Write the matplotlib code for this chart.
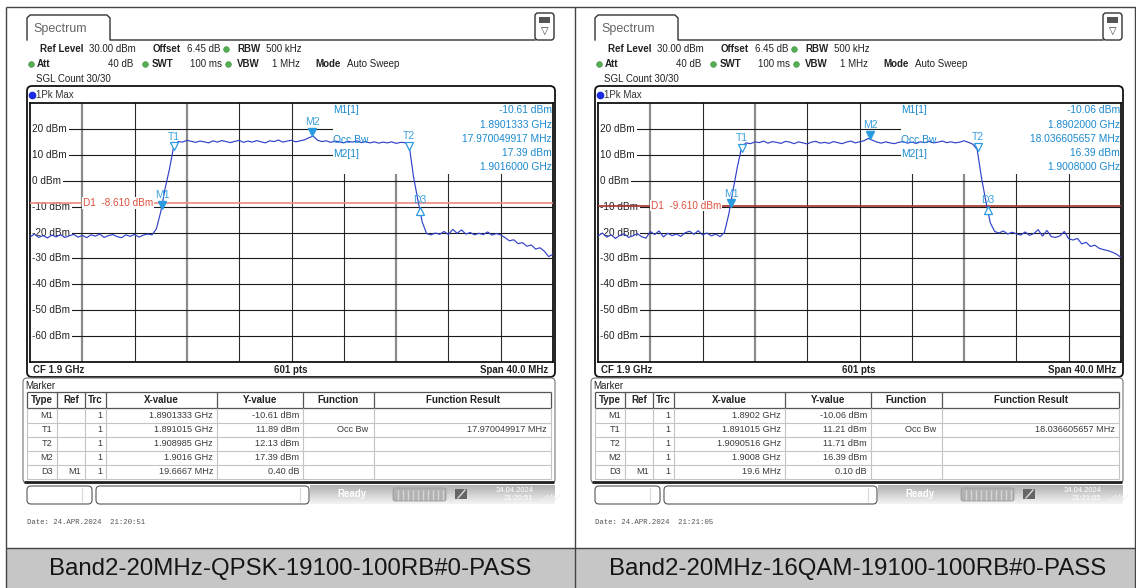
import numpy as np
import matplotlib.pyplot as plt
from matplotlib.patches import Rectangle, FancyBboxPatch
from matplotlib.transforms import ScaledTranslation

plt.rcParams['font.family'] = ['Liberation Sans', 'DejaVu Sans']

W, H = 1136, 588
PANEL_DX = 568

# analyser x axis: 40 MHz span around 1.9 GHz (GHz)
freq = np.linspace(1.88, 1.92, 121)

# traces (dBm)
trace_qpsk = [
    -21.8, -20.6, -21.9, -21.2, -22.1, -21.0, -21.7, -20.8, -21.9, -21.3,
    -20.7, -21.8, -21.1, -22.0, -20.9, -21.4, -20.6, -21.9, -21.2, -20.8,
    -21.6, -22.0, -20.9, -21.5, -20.7, -21.8, -21.0, -20.6, -20.9, -18.6,
    -12.0, -3.0, 4.5, 13.5, 15.1, 14.9, 15.6, 15.2, 14.8, 15.3,
    15.0, 14.6, 15.4, 14.9, 15.5, 15.1, 14.7, 15.2, 15.6, 14.8,
    15.3, 14.9, 15.5, 15.0, 14.6, 15.4, 15.1, 15.7, 14.9, 15.3,
    15.6, 15.0, 15.4, 15.8, 16.6, 17.2, 15.6, 15.1, 15.4, 14.8,
    15.3, 15.0, 14.6, 15.2, 14.9, 15.4, 14.7, 15.1, 14.6, 15.0,
    14.5, 14.9, 14.6, 15.0, 14.4, 14.8, 14.7, 13.6, 1.5, -7.5,
    -16.0, -20.4, -20.9, -20.2, -20.7, -19.6, -20.8, -18.8, -20.3, -19.0,
    -20.6, -20.0, -20.9, -20.3, -20.8, -19.8, -21.0, -20.4, -20.9, -22.0,
    -23.2, -22.8, -24.3, -23.9, -25.3, -24.8, -26.4, -25.9, -27.2, -29.3,
    -28.4]
trace_16qam = [
    -21.4, -20.2, -21.8, -20.9, -22.3, -21.1, -20.5, -21.9, -21.3, -20.4,
    -21.6, -22.2, -19.6, -20.8, -19.4, -21.7, -20.3, -21.2, -20.6, -21.5,
    -20.1, -19.5, -20.7, -19.3, -20.9, -20.2, -21.3, -20.6, -21.6, -20.0,
    -13.0, -3.5, 5.5, 13.2, 14.6, 14.3, 15.0, 14.7, 15.3, 14.5,
    15.1, 14.8, 14.4, 15.2, 14.9, 14.3, 15.0, 14.6, 14.2, 14.9,
    15.2, 14.5, 14.8, 14.4, 15.1, 14.7, 14.3, 14.9, 15.3, 14.6,
    15.0, 15.4, 16.3, 15.6, 14.9, 14.5, 15.0, 14.6, 14.3, 14.8,
    15.1, 14.5, 14.9, 14.4, 15.0, 14.7, 15.2, 14.6, 14.9, 15.3,
    14.7, 15.0, 14.6, 14.9, 15.4, 14.8, 14.1, 12.0, 1.0, -8.0,
    -16.2, -19.6, -20.2, -19.4, -20.6, -19.9, -20.5, -21.0, -19.8, -21.1,
    -20.4, -18.9, -21.4, -19.2, -21.6, -21.9, -21.3, -19.6, -22.4, -22.9,
    -22.3, -24.4, -23.8, -25.4, -24.9, -26.1, -26.6, -27.0, -27.6, -28.4,
    -29.6]

marker_names = ['M1', 'T1', 'T2', 'M2', 'D3']
marker_f_qpsk = [1.8901333, 1.891015, 1.908985, 1.9016, 1.8901333 + 0.0196667]
marker_v_qpsk = [-10.61, 11.89, 12.13, 17.39, -10.61 + 0.40]
marker_f_16qam = [1.8902, 1.891015, 1.9090516, 1.9008, 1.8902 + 0.0196]
marker_v_16qam = [-10.06, 11.21, 11.71, 16.39, -10.06 + 0.10]

d1_levels = [-8.610, -9.610]
info_qpsk = ['-10.61 dBm', '1.8901333 GHz', '17.970049917 MHz', '17.39 dBm', '1.9016000 GHz']
info_16qam = ['-10.06 dBm', '1.8902000 GHz', '18.036605657 MHz', '16.39 dBm', '1.9008000 GHz']

table_cols = ['Type', 'Ref', 'Trc', 'X-value', 'Y-value', 'Function', 'Function Result']
table_ref = ['', '', '', '', 'M1']
table_trc = ['1', '1', '1', '1', '1']
table_x_qpsk = ['1.8901333 GHz', '1.891015 GHz', '1.908985 GHz', '1.9016 GHz', '19.6667 MHz']
table_y_qpsk = ['-10.61 dBm', '11.89 dBm', '12.13 dBm', '17.39 dBm', '0.40 dB']
table_x_16qam = ['1.8902 GHz', '1.891015 GHz', '1.9090516 GHz', '1.9008 GHz', '19.6 MHz']
table_y_16qam = ['-10.06 dBm', '11.21 dBm', '11.71 dBm', '16.39 dBm', '0.10 dB']
occ_bw = ['17.970049917 MHz', '18.036605657 MHz']

dates = ['24.APR.2024  21:20:51', '24.APR.2024  21:21:05']
clock = ['21:20:51', '21:21:05']
captions = ['Band2-20MHz-QPSK-19100-100RB#0-PASS', 'Band2-20MHz-16QAM-19100-100RB#0-PASS']

y_levels = [20, 10, 0, -10, -20, -30, -40, -50, -60]

fig = plt.figure(figsize=(W / 100, H / 100), dpi=100)
bg = fig.add_axes([0, 0, 1, 1])
bg.axis('off')

DARK = '#222222'
MCOL = '#2b9be0'
LCOL = '#3aa0dc'


def rbox(x0, y0, x1, y1, r=4, **kw):
    bg.add_patch(FancyBboxPatch((x0, y0), x1 - x0, y1 - y0,
                                boxstyle=f'round,pad=0,rounding_size={r}', **kw))


def txt(x, y, s, size=7, **kw):
    kw.setdefault('color', DARK)
    bg.text(x, y, s, fontsize=size, va='center', **kw)


def panel(k, trace, mf, mv, info, tab_x, tab_y, d1_col):
    ox = k * PANEL_DX
    # tab + header frame
    bg.plot([ox + 27, ox + 27, ox + 30, ox + 107, ox + 110, ox + 110, ox + 535],
            [40, 18, 15, 15, 18, 40, 40], color='#333333', lw=1)
    txt(ox + 33, 29, 'Spectrum', size=9, color='#666666')
    rbox(ox + 535, 13, ox + 554, 40, r=3, fc='white', ec='#333333', lw=1)
    bg.add_patch(Rectangle((ox + 539, 17), 11, 6, fc='#555555', ec='none'))
    bg.text(ox + 544.5, 31, '\u25bd', fontsize=7, ha='center', va='center',
            family='DejaVu Sans', color='#333333')

    txt(ox + 40, 49, 'Ref Level', weight='bold')
    txt(ox + 89, 49, '30.00 dBm')
    txt(ox + 153, 49, 'Offset', weight='bold')
    txt(ox + 187, 49, '6.45 dB')
    txt(ox + 237, 49, 'RBW', weight='bold')
    txt(ox + 266, 49, '500 kHz')
    txt(ox + 37, 64, 'Att', weight='bold')
    txt(ox + 133, 64, '40 dB', ha='right')
    txt(ox + 152, 64, 'SWT', weight='bold')
    txt(ox + 190, 64, '100 ms')
    txt(ox + 237, 64, 'VBW', weight='bold')
    txt(ox + 300, 64, '1 MHz', ha='right')
    txt(ox + 315, 64, 'Mode', weight='bold')
    txt(ox + 347, 64, 'Auto Sweep')
    txt(ox + 36, 79, 'SGL Count 30/30')
    bg.plot([ox + 226, ox + 31, ox + 145, ox + 228], [49, 64, 64, 64], 'o', ms=4,
            color='#55b055', mec='#3f8f3f', mew=0.5)

    # trace window
    rbox(ox + 27, 86, ox + 555, 377, r=5, fc='white', ec='#111111', lw=1.3)
    bg.plot(ox + 32, 95, 'o', ms=4.5, color='#1a2ae0')
    txt(ox + 36, 95, '1Pk Max', color='#333333')
    txt(ox + 33, 370, 'CF 1.9 GHz', weight='bold')
    txt(ox + 291, 370, '601 pts', weight='bold', ha='center')
    txt(ox + 548, 370, 'Span 40.0 MHz', weight='bold', ha='right')

    # marker table window
    rbox(ox + 23, 378, ox + 555, 483, r=4, fc='white', ec='#777777', lw=0.8)
    txt(ox + 25, 386, 'Marker')
    cols = [27, 57, 85, 106, 217, 303, 374, 551]
    rows = [408, 422.5, 436.5, 450.5, 464.5, 478.5]
    bg.hlines([392, 408], ox + 27, ox + 551, color='#555555', lw=0.9)
    bg.hlines(rows[1:], ox + 27, ox + 551, color='#c4c4c4', lw=0.8)
    bg.vlines([ox + c for c in cols], 392, 408, color='#555555', lw=0.9)
    bg.vlines([ox + c for c in cols], 408, 478.5, color='#c4c4c4', lw=0.8)
    for j, name in enumerate(table_cols):
        txt(ox + (cols[j] + cols[j + 1]) / 2, 400, name, ha='center', weight='bold')
    body = [marker_names, table_ref, table_trc, tab_x, tab_y,
            ['', 'Occ Bw', '', '', ''], ['', occ_bw[k], '', '', '']]
    for j, column in enumerate(body):
        pad = 6 if j == 5 else 4
        for i, s in enumerate(column):
            txt(ox + cols[j + 1] - pad, (rows[i] + rows[i + 1]) / 2 + 0.5, s,
                size=6.6, ha='right', color='#3a3a3a')
    bg.hlines(481.5, ox + 24, ox + 554, color='#222222', lw=2)

    # status bar
    rbox(ox + 27, 486, ox + 92, 504, r=4, fc='white', ec='#555555', lw=0.8)
    rbox(ox + 96, 486, ox + 309, 504, r=4, fc='white', ec='#555555', lw=0.8)
    bg.vlines([ox + 82, ox + 300], 488, 502, color='#d8d8d8', lw=0.8)
    grad = np.linspace(0.70, 0.95, 12)[:, None]
    bg.imshow(grad, cmap='gray', vmin=0, vmax=1, aspect='auto',
              extent=(ox + 310, ox + 555, 504, 485), zorder=1)
    txt(ox + 337, 494, 'Ready', size=7, weight='bold', color='white')
    rbox(ox + 393, 488, ox + 446, 501, r=2, fc='#b2b2b2', ec='#9a9a9a', lw=0.6, zorder=2)
    bg.vlines(np.arange(ox + 398, ox + 444, 5), 489.5, 499.5, color='#d6d6d6', lw=1, zorder=3)
    bg.add_patch(Rectangle((ox + 455, 489), 12, 10, fc='#666666', ec='none', zorder=2))
    bg.plot([ox + 458, ox + 465], [498, 490], color='#dddddd', lw=1, zorder=3)
    txt(ox + 515, 490.5, '24.04.2024', size=5.5, color='white', ha='center', zorder=3)
    txt(ox + 533, 498.5, clock[k], size=5.5, color='white', ha='right', zorder=3)
    for h in range(4):
        bg.plot([ox + 540 + 4 * h, ox + 548 + 4 * h], [503, 495], color='#f2f2f2', lw=0.7, zorder=3)

    bg.text(ox + 27, 522, 'Date: ' + dates[k], fontsize=5.3, va='center',
            family=['Liberation Mono', 'DejaVu Sans Mono'], color='#555555')

    # spectrum plot
    ax = fig.add_axes([(ox + 30) / W, 1 - 362 / H, 523 / W, 259 / H])
    ax.set_xlim(1.88, 1.92)
    ax.set_ylim(-70, 30)
    ax.set_xticks([])
    ax.set_yticks([])
    for s in ax.spines.values():
        s.set_color('#111111')
        s.set_linewidth(1.3)

    def P(x, y):
        return (x - 30) / 523, (362 - y) / 259

    grid_f = np.linspace(1.88, 1.92, 11)[1:-1]
    for g, f in enumerate(grid_f):
        if g in (0, 2, 6):
            ax.axvline(f, color='#8c8c8c', lw=1.6, zorder=1)
        else:
            ax.axvline(f, color='#2a2a2a', lw=0.8, zorder=1)
    for lv in y_levels:
        ax.axhline(lv, color='#1a1a1a', lw=0.8, zorder=1)
        ax.text(2.5 / 523, lv, f'{lv} dBm', transform=ax.get_yaxis_transform(),
                fontsize=7.2, va='center', ha='left', color=DARK, zorder=3,
                bbox=dict(fc='white', ec='none', pad=1.4))

    x0, y0 = P(333, 174)
    ax.add_patch(Rectangle((x0, y0), 1 - x0, 1 - y0, transform=ax.transAxes,
                           fc='white', ec='none', zorder=2))

    ax.axhline(d1_levels[k], color=d1_col, lw=1.2, zorder=4)
    ax.text(53 / 523, d1_levels[k], f'D1  {d1_levels[k]:.3f} dBm',
            transform=ax.get_yaxis_transform(), fontsize=7.2, va='center', ha='left',
            color='#e0503c', zorder=4.5, bbox=dict(fc='white', ec='none', pad=0.4))

    ax.plot(freq, trace, color='#3242c8', lw=0.85, zorder=5)

    up = ax.transData + ScaledTranslation(0, 2.6 / 72, fig.dpi_scale_trans)
    down = ax.transData + ScaledTranslation(0, -2.6 / 72, fig.dpi_scale_trans)
    for name, f, v in zip(marker_names, mf, mv):
        if name == 'D3':
            ax.plot(f, v, marker='^', ms=5.5, mfc='white', mec=MCOL, mew=0.9,
                    transform=down, zorder=7)
            dy = 5
        elif name.startswith('M'):
            ax.plot(f, v, marker='v', ms=5.5, color=MCOL, transform=up, zorder=7)
            dy = 9.5
        else:
            ax.plot(f, v, marker='v', ms=5.5, mfc='white', mec=MCOL, mew=0.9,
                    transform=up, zorder=7)
            dy = 9.5
        ax.annotate(name, (f, v), xytext=(0, dy), textcoords='offset points',
                    ha='center', va='center', fontsize=7.5, color=LCOL, zorder=7)

    for s, (x, y) in zip(['M1[1]', 'Occ Bw', 'M2[1]'], [(333, 110), (333, 140), (333, 154)]):
        ax.text(*P(x, y), s, transform=ax.transAxes, fontsize=7.4, va='center',
                ha='left', color='#1c8ad0', zorder=6)
    for s, y in zip(info, [110, 124.5, 139, 153, 167.5]):
        ax.text(*P(552, y), s, transform=ax.transAxes, fontsize=7.4, va='center',
                ha='right', color='#1c8ad0', zorder=6)


panel(0, trace_qpsk, marker_f_qpsk, marker_v_qpsk, info_qpsk,
      table_x_qpsk, table_y_qpsk, '#ee8a80')
panel(1, trace_16qam, marker_f_16qam, marker_v_16qam, info_16qam,
      table_x_16qam, table_y_16qam, '#a5322a')

# outer frame and caption strip
bg.add_patch(Rectangle((6, 548), W - 6, 40, fc='#c6c6c6', ec='none'))
bg.hlines([7, 548], 6, W, color='#444444', lw=1)
bg.vlines([6, 575, W - 1], 7, H, color='#444444', lw=1)
for k, cap in enumerate(captions):
    bg.text(290 + k * PANEL_DX, 569, cap, fontsize=17.3, ha='center', va='center',
            color='#151515')

bg.set_xlim(0, W)
bg.set_ylim(H, 0)
fig.savefig('out.png', dpi=100)
